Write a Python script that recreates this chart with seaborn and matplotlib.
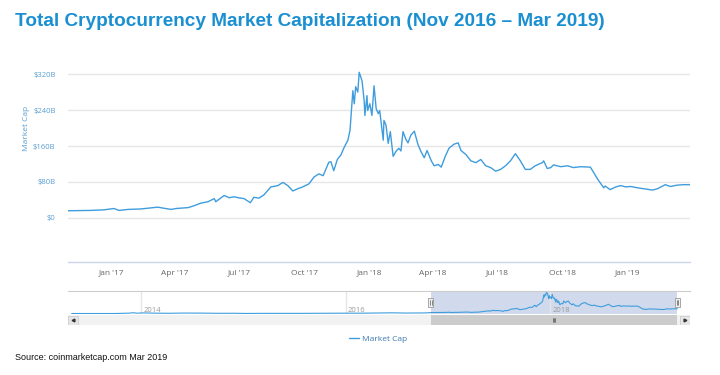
import pandas as pd
import seaborn as sns
import matplotlib as mpl
import matplotlib.pyplot as plt
import matplotlib.dates as mdates
from matplotlib.patches import Rectangle
from matplotlib.transforms import blended_transform_factory

mpl.use('Agg')

# ---- data (market cap, $B) ----
main_dates = ['2016-11-01', '2016-12-02', '2016-12-22', '2017-01-05', '2017-01-12', '2017-01-25',
              '2017-02-12', '2017-03-08', '2017-03-15', '2017-03-27', '2017-04-03', '2017-04-20',
              '2017-04-28', '2017-05-08', '2017-05-18', '2017-05-27', '2017-05-29', '2017-06-10',
              '2017-06-17', '2017-06-24', '2017-06-30', '2017-07-08', '2017-07-17', '2017-07-22',
              '2017-07-29', '2017-08-05', '2017-08-15', '2017-08-25', '2017-09-01', '2017-09-08',
              '2017-09-15', '2017-09-22', '2017-09-29', '2017-10-08', '2017-10-15', '2017-10-22',
              '2017-10-28', '2017-11-05', '2017-11-08', '2017-11-12', '2017-11-17', '2017-11-22',
              '2017-11-27', '2017-12-02', '2017-12-05', '2017-12-09', '2017-12-11', '2017-12-13',
              '2017-12-16', '2017-12-18', '2017-12-22', '2017-12-25', '2017-12-26', '2017-12-29',
              '2017-12-30', '2018-01-02', '2018-01-05', '2018-01-08', '2018-01-11', '2018-01-14',
              '2018-01-16', '2018-01-21', '2018-01-22', '2018-01-25', '2018-01-28', '2018-01-31',
              '2018-02-04', '2018-02-08', '2018-02-12', '2018-02-15', '2018-02-18', '2018-02-22',
              '2018-02-25', '2018-03-01', '2018-03-06', '2018-03-11', '2018-03-15', '2018-03-20',
              '2018-03-24', '2018-03-30', '2018-04-03', '2018-04-09', '2018-04-13', '2018-04-19',
              '2018-04-24', '2018-05-01', '2018-05-07', '2018-05-11', '2018-05-18', '2018-05-25',
              '2018-06-01', '2018-06-08', '2018-06-15', '2018-06-22', '2018-06-29', '2018-07-06',
              '2018-07-13', '2018-07-20', '2018-07-27', '2018-08-03', '2018-08-10', '2018-08-17',
              '2018-08-24', '2018-08-31', '2018-09-03', '2018-09-05', '2018-09-10', '2018-09-15',
              '2018-09-19', '2018-09-29', '2018-10-09', '2018-10-17', '2018-10-27', '2018-11-10',
              '2018-11-14', '2018-11-20', '2018-11-24', '2018-11-29', '2018-12-01', '2018-12-08',
              '2018-12-16', '2018-12-23', '2018-12-30', '2019-01-06', '2019-01-16', '2019-01-24',
              '2019-02-06', '2019-02-13', '2019-02-24', '2019-03-03', '2019-03-13', '2019-03-22',
              '2019-03-31']
main_caps = [16, 16.7, 18, 21, 16.7, 19,
             20, 24, 22, 19, 21, 23,
             27, 33, 36, 43, 36, 50,
             45, 47, 45, 43, 34, 46,
             44, 51, 69, 72, 79, 72,
             60, 65, 69, 76, 91, 98,
             94, 124, 125, 105, 130, 140,
             158, 173, 195, 283, 254, 292,
             280, 324, 305, 261, 228, 272,
             239, 254, 228, 294, 243, 232,
             239, 173, 217, 206, 166, 192,
             137, 148, 155, 149, 192, 175,
             167, 184, 193, 164, 149, 134,
             150, 127, 116, 119, 113, 138,
             155, 164, 167, 150, 141, 127,
             123, 130, 116, 112, 104, 108,
             116, 127, 143, 127, 108, 108,
             116, 121, 123, 127, 110, 112,
             118, 114, 116, 112, 114, 113,
             103, 87, 78, 67, 71, 63,
             69, 72, 69, 70, 67, 65,
             62, 65, 74, 70, 73, 74,
             74]

# older history, only visible in the navigator strip
early_dates = ['2013-04-28', '2013-07-05', '2013-10-01', '2013-11-18', '2013-12-04', '2013-12-18',
               '2014-01-06', '2014-02-25', '2014-04-10', '2014-06-03', '2014-08-01', '2014-10-05',
               '2014-12-01', '2015-01-14', '2015-03-15', '2015-06-01', '2015-08-01', '2015-11-04',
               '2016-01-01', '2016-03-01', '2016-06-17', '2016-08-02', '2016-10-15']
early_caps = [1.5, 0.8, 1.5, 7, 13, 6,
              11, 6.5, 5, 8.3, 7.5, 4.5,
              5, 2.4, 4, 3.2, 4, 6.5,
              6.5, 6.5, 12, 8.5, 10.5]

ytick_vals = [0, 80, 160, 240, 320]
ytick_labels = ['$0', '$80B', '$160B', '$240B', '$320B']
nav_years = ['2014', '2016', '2018']

LINE = '#3f9ddd'
TITLE = '#1a8fd1'
AXBLUE = '#5a9fd4'

df = pd.DataFrame({'Date': pd.to_datetime(main_dates), 'Cap': main_caps})
df_all = pd.concat([pd.DataFrame({'Date': pd.to_datetime(early_dates), 'Cap': early_caps}), df])

sns.set_style('white')
plt.rcParams['font.family'] = ['Open Sans', 'DejaVu Sans']

fig = plt.figure(figsize=(7.2, 3.75), dpi=100)
W, H = 720, 375


def box(x0, y0, x1, y1):
    # pixel box (top-left origin) -> figure fraction rect
    return [x0 / W, 1 - y1 / H, (x1 - x0) / W, (y1 - y0) / H]


# =========== main chart ===========
ax = fig.add_axes(box(68, 66, 690, 262))
sns.lineplot(data=df, x='Date', y='Cap', ax=ax, color=LINE, lw=1.0, label='Market Cap')
ax.set_xlim(pd.Timestamp('2016-11-01'), pd.Timestamp('2019-03-31'))
ax.set_ylim(-98, 338)
ax.set_yticks(ytick_vals)
ax.set_yticklabels(ytick_labels, color=AXBLUE, fontsize=5.5)
ax.yaxis.grid(True, color='#e6e6e6', lw=1)
ax.tick_params(axis='y', length=0, pad=9)
ax.xaxis.set_major_locator(mdates.MonthLocator(bymonth=[1, 4, 7, 10]))
ax.xaxis.set_major_formatter(mdates.DateFormatter("%b '%y"))
ax.tick_params(axis='x', labelsize=6, labelcolor='#666666', color='#ccd6eb',
               length=4, width=0.8, pad=1.5)
for s in ['top', 'left', 'right']:
    ax.spines[s].set_visible(False)
ax.spines['bottom'].set_color('#ccd6eb')
ax.spines['bottom'].set_linewidth(1)
ax.set_xlabel('')
ax.set_ylabel('')
fig.text(27 / W, 1 - 128 / H, 'Market Cap', rotation=90, color=AXBLUE,
         fontsize=6, ha='center', va='center')
ax.legend(loc='center', bbox_to_anchor=(378 / W, 1 - 339 / H), bbox_transform=fig.transFigure,
          frameon=False, fontsize=6, handlelength=1.2, handletextpad=0.4, labelcolor='#3d78b5')

# =========== navigator ===========
nav_lo, nav_hi = pd.Timestamp('2013-04-15'), pd.Timestamp('2019-05-15')
sel_lo, sel_hi = pd.Timestamp('2016-11-01'), pd.Timestamp('2019-03-31')
nav = fig.add_axes(box(68, 291, 690, 314))
nav.axvspan(sel_lo, sel_hi, color='#6685c2', alpha=0.3, lw=0, zorder=0)
for yr in nav_years:
    d = pd.Timestamp(f'{yr}-01-01')
    nav.axvline(d, color='#e6e6e6', lw=1, zorder=0.5)
    nav.text(d + pd.Timedelta(days=8), 0.02, yr, transform=blended_transform_factory(nav.transData, nav.transAxes),
             fontsize=5.5, color='#999999', va='bottom', ha='left')
sns.lineplot(data=df_all, x='Date', y='Cap', ax=nav, color=LINE, lw=0.8)
nav.set_xlim(nav_lo, nav_hi)
nav.set_ylim(-6, 345)
nav.set_xticks([])
nav.set_yticks([])
nav.set_xlabel('')
nav.set_ylabel('')
for s in ['bottom', 'left', 'right']:
    nav.spines[s].set_visible(False)
nav.spines['top'].set_color('#cccccc')
bt = blended_transform_factory(nav.transData, nav.transAxes)
for d in [sel_lo, sel_hi]:
    x = mdates.date2num(d)
    nav.add_patch(Rectangle((x - 9, 0.3), 18, 0.4, transform=bt, facecolor='#f2f2f2',
                            edgecolor='#999999', lw=0.6, zorder=5))
    nav.plot([x - 3, x - 3], [0.4, 0.6], transform=bt, color='#333333', lw=0.4, zorder=6)
    nav.plot([x + 3, x + 3], [0.4, 0.6], transform=bt, color='#333333', lw=0.4, zorder=6)

# =========== scrollbar ===========
sb = fig.add_axes(box(68, 315, 690, 325))
sb.set_xlim(nav_lo, nav_hi)
sb.set_ylim(0, 1)
sb.set_facecolor('#f2f2f2')
sb.axvspan(sel_lo, sel_hi, color='#cccccc', lw=0)
mid = sel_lo + (sel_hi - sel_lo) / 2
for k in (-4, 0, 4):
    sb.plot([mid + pd.Timedelta(days=k), mid + pd.Timedelta(days=k)], [0.3, 0.7], color='#333333', lw=0.4)
for d, mk in [(nav_lo + pd.Timedelta(days=18), '<'), (nav_hi - pd.Timedelta(days=18), '>')]:
    x = mdates.date2num(d)
    sb.add_patch(Rectangle((x - 17, 0.05), 34, 0.9, facecolor='#e6e6e6', edgecolor='#cccccc', lw=0.6))
    sb.plot([d], [0.5], marker=mk, color='#333333', ms=2)
sb.set_xticks([])
sb.set_yticks([])
for s in sb.spines.values():
    s.set_visible(False)

# =========== texts ===========
fig.text(15 / W, 1 - 21 / H, 'Total Cryptocurrency Market Capitalization (Nov 2016 \u2013 Mar 2019)',
         family=['Liberation Sans', 'DejaVu Sans'], fontweight='bold', fontsize=13.7,
         color=TITLE, ha='left', va='center')
fig.text(15 / W, 1 - 357 / H, 'Source: coinmarketcap.com Mar 2019',
         family=['Liberation Sans', 'DejaVu Sans'], fontsize=6.5, color='#111111',
         ha='left', va='center')

fig.savefig('out.png', dpi=100)
plt.close()
